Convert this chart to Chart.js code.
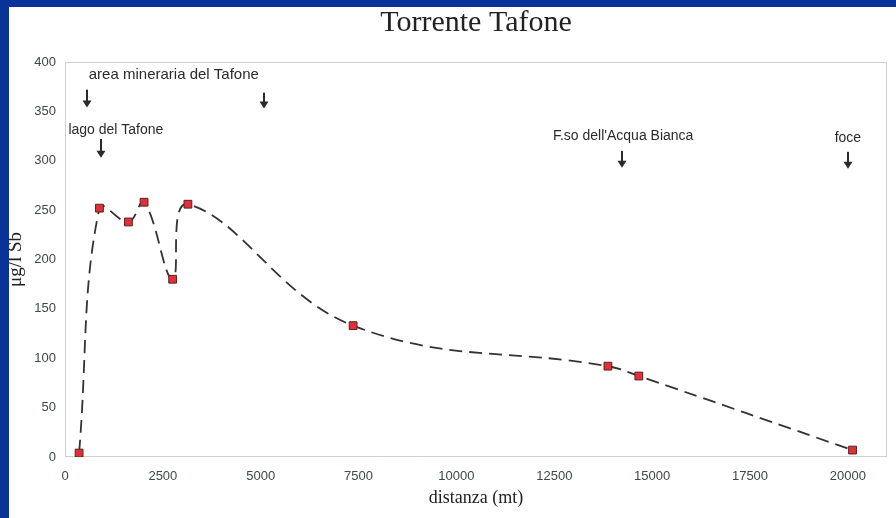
<!DOCTYPE html>
<html>
<head>
<meta charset="utf-8">
<script src="https://cdn.jsdelivr.net/npm/chart.js@4.4.1/dist/chart.umd.min.js"></script>
<style>
  html, body { margin: 0; padding: 0; }
  body { width: 896px; height: 518px; background: #0a3399; position: relative; overflow: hidden; }
  #sheet { position: absolute; left: 9px; top: 7px; right: 0; bottom: 0; background: #fff; overflow: hidden; }
  #chart { position: absolute; left: -9px; top: -7px; }
</style>
</head>
<body>
<div id="sheet"><canvas id="chart" width="896" height="518"></canvas></div>
<script>
// Sb concentration along the Torrente Tafone
const distanza = [360, 880, 1620, 2020, 2750, 3140, 7360, 13870, 14660, 20120];
const sb = [4, 252, 238, 258, 180, 256, 133, 92, 82, 7];

const xTicks = [0, 2500, 5000, 7500, 10000, 12500, 15000, 17500, 20000];
const yTicks = [0, 50, 100, 150, 200, 250, 300, 350, 400];

// place labels and arrows (in metres / µg/l)
const notes = ["area mineraria del Tafone", "lago del Tafone", "F.so dell'Acqua Bianca", "foce"];
const noteX = [2780, 1300, 14260, 20000];
const noteY = [387, 331, 325, 323];
const arrowX = [560, 5080, 920, 14230, 20010];
const arrowTop = [372, 369, 322, 310, 309];
const arrowEnd = [354, 353, 303, 293, 292];

const points = distanza.map((d, i) => ({ x: d, y: sb[i] }));

// dotted frame round the plot
const frame = {
    id: "frame",
    beforeDatasetsDraw(chart) {
        const a = chart.chartArea;
        const ctx = chart.ctx;
        ctx.save();
        ctx.strokeStyle = "#a0a0a0";
        ctx.lineWidth = 1;
        ctx.setLineDash([1, 1]);
        ctx.strokeRect(a.left + 0.5, a.top + 0.5, a.right - a.left - 1, a.bottom - a.top - 1);
        ctx.restore();
    }
};

// text notes and down arrows
const marks = {
    id: "marks",
    afterDatasetsDraw(chart) {
        const ctx = chart.ctx;
        const xs = chart.scales.x, ys = chart.scales.y;
        ctx.save();
        ctx.fillStyle = "#2b2b2b";
        ctx.textAlign = "center";
        ctx.textBaseline = "middle";
        notes.forEach((t, i) => {
            ctx.font = (i === 0 ? "15px" : "14px") + " 'Liberation Sans', Arial, sans-serif";
            ctx.fillText(t, xs.getPixelForValue(noteX[i]), ys.getPixelForValue(noteY[i]));
        });
        arrowX.forEach((v, i) => {
            const x = Math.round(xs.getPixelForValue(v));
            const y0 = ys.getPixelForValue(arrowTop[i]);
            const y1 = ys.getPixelForValue(arrowEnd[i]);
            ctx.fillRect(x - 1, y0, 2, y1 - y0 - 6);
            ctx.beginPath();
            ctx.moveTo(x - 4.5, y1 - 7);
            ctx.lineTo(x + 4.5, y1 - 7);
            ctx.lineTo(x, y1);
            ctx.closePath();
            ctx.fill();
        });
        ctx.restore();
    }
};

new Chart(document.getElementById("chart"), {
    type: "line",
    data: {
        datasets: [{
            label: "Sb",
            data: points,
            borderColor: "#333",
            borderWidth: 1.8,
            borderDash: [13, 7],
            tension: 0.4,
            fill: false,
            pointStyle: "rect",
            pointRadius: 5.5,
            pointBackgroundColor: "#e0313a",
            pointBorderColor: "#5a2020",
            pointBorderWidth: 1
        }]
    },
    options: {
        responsive: false,
        animation: false,
        layout: { padding: { left: 0, right: 9, top: 0, bottom: 0 } },
        plugins: {
            legend: { display: false },
            tooltip: { enabled: false },
            title: {
                display: true,
                text: "Torrente Tafone",
                fullSize: false,
                color: "#222",
                font: { family: "'Liberation Serif', 'Times New Roman', serif", size: 30, weight: "normal", lineHeight: 1.2 },
                padding: { top: 5, bottom: 21 }
            }
        },
        scales: {
            x: {
                type: "linear",
                min: 0,
                max: 21000,
                afterBuildTicks(scale) {
                    scale.ticks = xTicks.map(v => ({ value: v }));
                },
                afterFit(scale) { scale.height = 61; },
                grid: { display: false, drawTicks: false },
                border: { display: false },
                ticks: {
                    padding: 12,
                    maxRotation: 0,
                    color: "#3d4848",
                    font: { family: "'Liberation Sans', Arial, sans-serif", size: 13 },
                    callback: v => String(v)
                },
                title: {
                    display: true,
                    text: "distanza (mt)",
                    color: "#222",
                    padding: { top: 0, bottom: 9 },
                    font: { family: "'Liberation Serif', 'Times New Roman', serif", size: 18, lineHeight: 1.2 }
                }
            },
            y: {
                min: 0,
                max: 400,
                afterBuildTicks(scale) {
                    scale.ticks = yTicks.map(v => ({ value: v }));
                },
                afterFit(scale) { scale.width = 65; },
                grid: { display: false, drawTicks: false },
                border: { display: false },
                ticks: {
                    padding: 9,
                    color: "#3d4848",
                    font: { family: "'Liberation Sans', Arial, sans-serif", size: 13 },
                    callback: v => String(v)
                },
                title: {
                    display: true,
                    text: "μg/l Sb",
                    color: "#222",
                    padding: { top: 5, bottom: 0 },
                    font: { family: "'Liberation Serif', 'Times New Roman', serif", size: 19, lineHeight: 1.2 }
                }
            }
        }
    },
    plugins: [frame, marks]
});
</script>
</body>
</html>
